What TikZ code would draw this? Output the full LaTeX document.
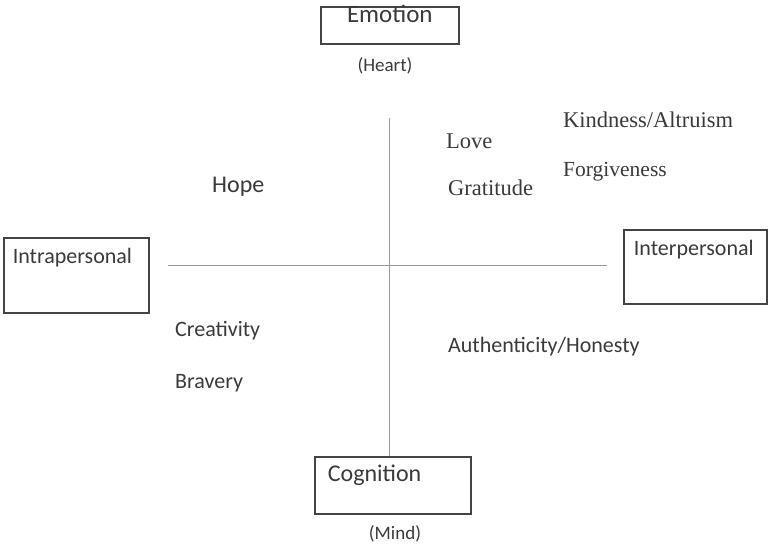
\documentclass[tikz,border=0pt]{standalone}
\usepackage{fontspec}
\setmainfont{Carlito}
\newfontfamily\timesfont{Liberation Serif}
\usepackage{tikz}
\usetikzlibrary{positioning}
\usepackage{xcolor}
\definecolor{inkgray}{HTML}{3A3A3A}
\definecolor{boxgray}{HTML}{444444}
\definecolor{axisgray}{HTML}{9A9A9A}

\begin{document}
\begin{tikzpicture}[
x=1pt,y=-1pt,
box/.style={rectangle,draw=boxgray,line width=1.7pt,inner ysep=0pt,anchor=north west,text=inkgray,font=\fontsize{22}{26}\selectfont},
word/.style={anchor=base west,inner sep=0pt,text=inkgray,font=\fontsize{22}{26}\selectfont},
serifword/.style={word,font=\timesfont\fontsize{22.5}{26}\selectfont},
note/.style={anchor=base,inner sep=0pt,text=inkgray,font=\fontsize{19}{22}\selectfont},
axis/.style={draw=axisgray,line width=0.9pt}
]
\useasboundingbox (0,0) rectangle (768,544);

% the four poles
\node[box,font=\fontsize{25}{28}\selectfont,inner xsep=0pt,text width=138pt,align=center,text height=16pt,text depth=21pt] (emotion) at (320,6) {Emotion};
\node[note] (heart) at (385,71) {(Heart)};
\node[box,inner xsep=9pt,text width=127pt,align=left,text height=26pt,text depth=49pt] (intra) at (3,237) {Intrapersonal};
\node[box,inner xsep=10pt,text width=123pt,align=left,text height=26pt,text depth=48pt] (inter) at (623,229) {Interpersonal};
\node[box,font=\fontsize{24}{28}\selectfont,inner xsep=13pt,text width=130pt,align=left,text height=25pt,text depth=32pt] (cognition) at (314,456) {Cognition};
\node[note] (mind) at (395,539) {(Mind)};

% axes
\coordinate (top) at (389,118);
\coordinate (left) at (168,265);
\coordinate (right) at (607,265);
\draw[axis] (top) -- (top |- cognition.north);
\draw[axis] (left) -- (right);

% strengths
\node[word,font=\fontsize{24}{28}\selectfont] (hope) at (212,192) {Hope};
\node[serifword] (love) at (446,148) {Love};
\node[serifword] (gratitude) at (448,195) {Gratitude};
\node[serifword] (kindness) at (563,127) {Kindness/Altruism};
\node[serifword,font=\timesfont\fontsize{21.5}{26}\selectfont] (forgive) at (563,176) {Forgiveness};
\node[word] (creativity) at (175,336) {Creativity};
\node[word] (bravery) at (175,388) {Bravery};
\node[word] (honesty) at (448,352) {Authenticity/Honesty};
\end{tikzpicture}
\end{document}
